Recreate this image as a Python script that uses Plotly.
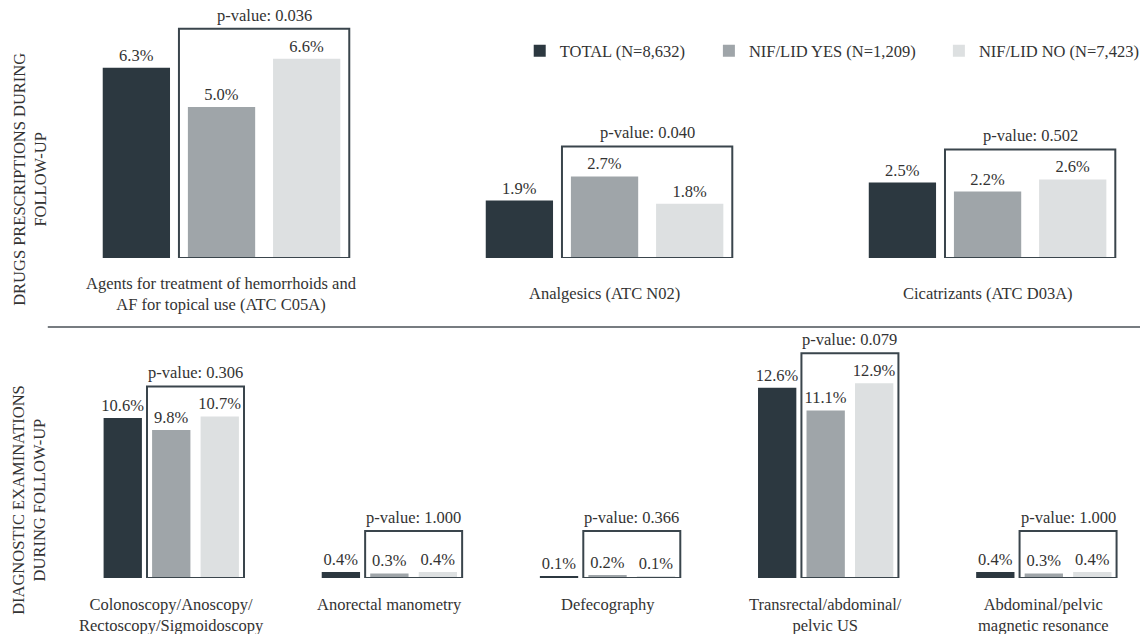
import plotly.graph_objects as go

# ---------------- data ----------------
series_names = ["TOTAL (N=8,632)", "NIF/LID YES (N=1,209)", "NIF/LID NO (N=7,423)"]

drug_categories = [
    "Agents for treatment of hemorrhoids and<br>AF for topical use (ATC C05A)",
    "Analgesics (ATC N02)",
    "Cicatrizants (ATC D03A)",
]
drug_total = [6.3, 1.9, 2.5]
drug_yes = [5.0, 2.7, 2.2]
drug_no = [6.6, 1.8, 2.6]
drug_pvalues = ["0.036", "0.040", "0.502"]

diag_categories = [
    "Colonoscopy/Anoscopy/<br>Rectoscopy/Sigmoidoscopy",
    "Anorectal manometry",
    "Defecography",
    "Transrectal/abdominal/<br>pelvic US",
    "Abdominal/pelvic<br>magnetic resonance",
]
diag_total = [10.6, 0.4, 0.1, 12.6, 0.4]
diag_yes = [9.8, 0.3, 0.2, 11.1, 0.3]
diag_no = [10.7, 0.4, 0.1, 12.9, 0.4]
diag_pvalues = ["0.306", "1.000", "0.366", "0.079", "1.000"]

row_titles = ["DRUGS PRESCRIPTIONS DURING<br>FOLLOW-UP",
              "DIAGNOSTIC EXAMINATIONS<br>DURING FOLLOW-UP"]

# ---------------- style ----------------
W, H = 1145, 634
FONT = "Liberation Serif"
FS = 16.5
TXT = "#333333"
COLORS = ["#2c3840", "#9fa5a9", "#dde0e1"]
BOX = "#3a454c"
BARGAP = 0.333
SLOT = (1 - BARGAP) / 3

# row geometry (pixels from top of page)
top_base_px, top_dom_top_px = 258, 0
bot_base_px, bot_dom_top_px = 578, 327
top_ppu = 30.2   # px per percent
bot_ppu = 15.1

def pdom(px):
    return 1 - px / H

top_range = (top_base_px - top_dom_top_px) / top_ppu
bot_range = (bot_base_px - bot_dom_top_px) / bot_ppu

fig = go.Figure()

rows = [
    dict(cats=drug_categories, vals=[drug_total, drug_yes, drug_no], p=drug_pvalues,
         xa="x", ya="y", ppu=top_ppu),
    dict(cats=diag_categories, vals=[diag_total, diag_yes, diag_no], p=diag_pvalues,
         xa="x2", ya="y2", ppu=bot_ppu),
]

legend_ids = ["legend", "legend2", "legend3"]
for ri, row in enumerate(rows):
    for si in range(3):
        fig.add_trace(go.Bar(
            x=row["cats"], y=row["vals"][si], name=series_names[si],
            marker=dict(color=COLORS[si], line=dict(width=0)),
            text=[f"{v:.1f}%" for v in row["vals"][si]],
            textposition="outside", cliponaxis=False, constraintext="none",
            textfont=dict(family=FONT, size=FS, color=TXT),
            xaxis=row["xa"], yaxis=row["ya"],
            showlegend=(ri == 0), legend=legend_ids[si],
            hoverinfo="skip",
        ))

shapes = []
annotations = []
for ri, row in enumerate(rows):
    ppu = row["ppu"]
    for gi, cat in enumerate(row["cats"]):
        sub_max = max(row["vals"][1][gi], row["vals"][2][gi])
        box_top = max(sub_max + 30 / ppu, 47 / ppu)
        shapes.append(dict(type="rect", xref=row["xa"], yref=row["ya"],
                           x0=gi - SLOT / 2, x1=gi + 1.5 * SLOT, y0=0, y1=box_top,
                           line=dict(color=BOX, width=2), fillcolor="rgba(0,0,0,0)",
                           layer="above"))
        annotations.append(dict(xref=row["xa"], yref=row["ya"], x=gi + 0.5 * SLOT, y=box_top,
                                text=f"p-value: {row['p'][gi]}", showarrow=False,
                                yanchor="bottom", yshift=2,
                                font=dict(family=FONT, size=FS, color=TXT)))
        # category labels
        if ri == 0:
            annotations.append(dict(xref="x", yref="paper", x=gi, y=pdom(293.5),
                                    text=cat, showarrow=False, yanchor="middle",
                                    font=dict(family=FONT, size=FS, color=TXT)))
        else:
            annotations.append(dict(xref="x2", yref="paper", x=gi, y=pdom(593),
                                    text=cat, showarrow=False, yanchor="top",
                                    font=dict(family=FONT, size=FS, color=TXT)))

# row titles
annotations.append(dict(xref="paper", yref="paper", x=30 / W, y=pdom(179), text=row_titles[0],
                        textangle=-90, showarrow=False, xanchor="center", yanchor="middle",
                        font=dict(family=FONT, size=FS, color=TXT)))
annotations.append(dict(xref="paper", yref="paper", x=29 / W, y=pdom(500), text=row_titles[1],
                        textangle=-90, showarrow=False, xanchor="center", yanchor="middle",
                        font=dict(family=FONT, size=FS, color=TXT)))

# separator
shapes.append(dict(type="line", xref="paper", yref="paper", x0=48 / W, x1=1,
                   y0=pdom(327), y1=pdom(327), line=dict(color="#4a5157", width=1.5)))

# axis ranges so that group centers land where desired
top_ppx = 384.7
top_a = -222.5 / top_ppx
bot_ppx = 219.1
bot_a = -172 / bot_ppx

axis_common = dict(showgrid=False, zeroline=False, showticklabels=False, showline=False,
                   ticks="", fixedrange=True)

leg_common = dict(orientation="h", yanchor="middle", xanchor="left", y=pdom(51),
                  font=dict(family=FONT, size=FS, color=TXT), bgcolor="rgba(0,0,0,0)",
                  borderwidth=0, itemclick=False)

fig.update_layout(
    width=W, height=H,
    margin=dict(l=0, r=0, t=0, b=0),
    paper_bgcolor="white", plot_bgcolor="white",
    barmode="group", bargap=BARGAP, bargroupgap=0.21,
    font=dict(family=FONT, size=FS, color=TXT),
    xaxis=dict(domain=[0, 1], anchor="y", type="category",
               range=[top_a, top_a + W / top_ppx], **axis_common),
    yaxis=dict(domain=[pdom(top_base_px), pdom(top_dom_top_px)], anchor="x",
               range=[0, top_range], **axis_common),
    xaxis2=dict(domain=[0, 1], anchor="y2", type="category",
                range=[bot_a, bot_a + W / bot_ppx], **axis_common),
    yaxis2=dict(domain=[pdom(bot_base_px), pdom(bot_dom_top_px)], anchor="x2",
                range=[0, bot_range], **axis_common),
    legend=dict(x=522 / W, **leg_common),
    legend2=dict(x=712 / W, **leg_common),
    legend3=dict(x=943 / W, **leg_common),
    shapes=shapes,
    annotations=annotations,
    showlegend=True,
)

fig.write_html("out.html", config={"displayModeBar": False},
               post_script="document.body.style.margin='0';document.body.style.overflow='hidden';")
